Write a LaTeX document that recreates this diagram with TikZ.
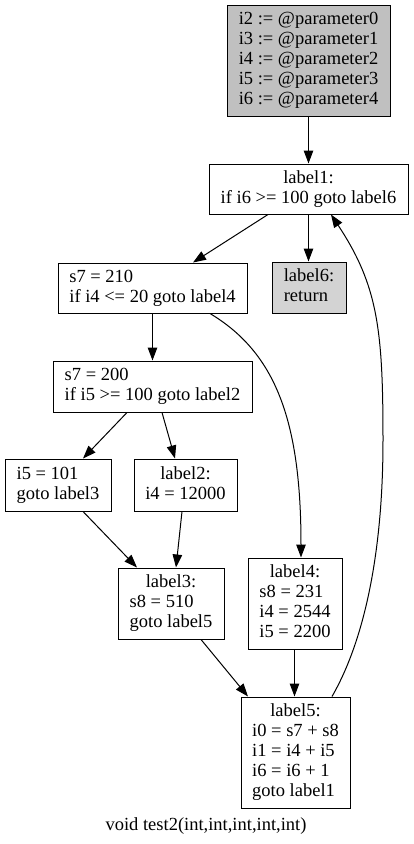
\documentclass[tikz,border=0pt]{standalone}
\usepackage{fontspec}
\setmainfont{Liberation Serif}
\usetikzlibrary{arrows.meta}
\definecolor{gvgray}{HTML}{C0C0C0}
\definecolor{gvlight}{HTML}{D3D3D3}
\newcommand{\gvfont}{\fontsize{18.5}{20}\selectfont}
\newcommand{\lines}[1]{\begin{tabular}{@{}l@{}}#1\end{tabular}}
\newcommand{\hd}[1]{\multicolumn{1}{@{}c@{}}{#1}}
\begin{document}
\begin{tikzpicture}[x=1pt,y=-1pt,
  box/.style={draw,line width=1pt,inner sep=0pt,font=\gvfont,align=center},
  edge/.style={line width=1pt,-{Triangle[length=13pt,width=9.5pt]}}]
\renewcommand{\arraystretch}{1}
\useasboundingbox[fill=white] (0,0) rectangle (413,844);
\node[box,fill=gvgray,minimum width=163pt,minimum height=111pt] (P) at (308.5,60.5)
  {\lines{\hd{i2 := @parameter0}\\\hd{i3 := @parameter1}\\\hd{i4 := @parameter2}\\\hd{i5 := @parameter3}\\\hd{i6 := @parameter4}}};
\node[box,minimum width=199pt,minimum height=50pt] (L1) at (308.5,189)
  {\lines{\hd{label1:}\\if i6 >= 100 goto label6}};
\node[box,fill=gvlight,minimum width=74pt,minimum height=51pt] (L6) at (309,287.5)
  {\lines{label6:\\return}};
\node[box,minimum width=189pt,minimum height=50pt] (A) at (152.5,288)
  {\lines{s7 = 210\\if i4 <= 20 goto label4}};
\node[box,minimum width=199pt,minimum height=51pt] (B) at (152.5,386.5)
  {\lines{s7 = 200\\if i5 >= 100 goto label2}};
\node[box,minimum width=106pt,minimum height=52pt] (C) at (58,485)
  {\lines{i5 = 101\\goto label3}};
\node[box,minimum width=103pt,minimum height=52pt] (D) at (185.5,485)
  {\lines{\hd{label2:}\\i4 = 12000}};
\node[box,minimum width=106pt,minimum height=71pt] (E) at (171,603.5)
  {\lines{\hd{label3:}\\s8 = 510\\goto label5}};
\node[box,minimum width=94pt,minimum height=91pt] (F) at (295,603.5)
  {\lines{\hd{label4:}\\s8 = 231\\i4 = 2544\\i5 = 2200}};
\node[box,minimum width=109pt,minimum height=111pt] (G) at (295.5,752.5)
  {\lines{\hd{label5:}\\i0 = s7 + s8\\i1 = i4 + i5\\i6 = i6 + 1\\goto label1}};
\node[font=\gvfont,inner sep=0pt] (cap) at (206,826) {void test2(int,int,int,int,int)};
\coordinate (bend) at (383,440);

\draw[edge] (P.south) -- (L1.north);
\draw[edge] ([xshift=-40.5pt]L1.south) -- ([xshift=40.5pt]A.north);
\draw[edge] (L1.south) -- (L1.south |- L6.north);
\draw[edge] (A.south) -- (B.north);
\draw[edge] ([xshift=57.5pt]A.south) .. controls +(65,39) and +(0,-138) .. ([xshift=6pt]F.north);
\draw[edge] ([xshift=-25.5pt]B.south) -- ([xshift=25pt]C.north);
\draw[edge] ([xshift=9.5pt]B.south) -- ([xshift=-10.5pt]D.north);
\draw[edge] ([xshift=25pt]C.south) -- ([xshift=-34pt]E.north);
\draw[edge] ([xshift=-3.5pt]D.south) -- ([xshift=5pt]E.north);
\draw[edge] ([xshift=30pt]E.south) -- ([xshift=-47.5pt]G.north);
\draw[edge] ([xshift=-0.5pt]F.south) -- ([xshift=-0.5pt]F.south |- G.north);
\draw[edge] ([xshift=36.5pt]G.north) .. controls +(30,-52) and +(0,120) .. (bend)
  .. controls +(0,-110) and +(47,71) .. ([xshift=22.5pt]L1.south);
\end{tikzpicture}
\end{document}
